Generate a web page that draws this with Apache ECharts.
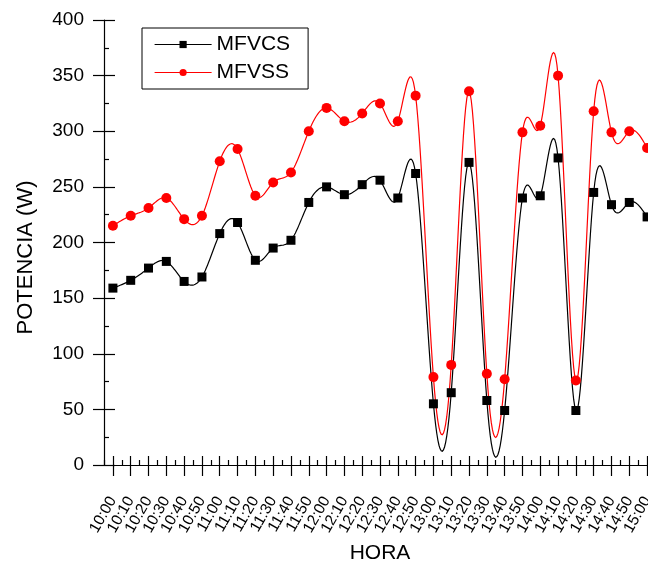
<!DOCTYPE html>
<html>
<head>
<meta charset="utf-8">
<script src="https://cdn.jsdelivr.net/npm/echarts@6/dist/echarts.min.js"></script>
<style>
  html, body { margin: 0; padding: 0; background: #fff; }
  #chart { width: 648px; height: 562px; }
</style>
</head>
<body>
<div id="chart"></div>
<script>
// Time of day, one reading every 10 minutes
const horas = ['10:00','10:10','10:20','10:30','10:40','10:50',
               '11:00','11:10','11:20','11:30','11:40','11:50',
               '12:00','12:10','12:20','12:30','12:40','12:50',
               '13:00','13:10','13:20','13:30','13:40','13:50',
               '14:00','14:10','14:20','14:30','14:40','14:50','15:00'];

// Power (W) of each module
const mfvcs = [159, 166, 177, 183, 165, 169, 208, 218, 184, 195, 202, 236,
               250, 243, 252, 256, 240, 262, 55, 65, 272, 58, 49, 240,
               242, 276, 49, 245, 234, 236, 223];
const mfvss = [215, 224, 231, 240, 221, 224, 273, 284, 242, 254, 263, 300,
               321, 309, 316, 325, 309, 332, 79, 90, 336, 82, 77, 299,
               305, 350, 76, 318, 299, 300, 285];

const FONT = '"Liberation Sans", Arial, sans-serif';
const BLACK = '#000000';
const RED = '#ff0000';

// Natural cubic spline through screen points (x strictly increasing)
function splinePath(pts, steps) {
  const n = pts.length;
  const x = pts.map(p => p[0]), y = pts.map(p => p[1]);
  const h = [];
  for (let i = 0; i < n - 1; i++) h.push(x[i + 1] - x[i]);
  const M = new Array(n).fill(0);
  if (n > 2) {
    const a = [], b = [], c = [], d = [];
    for (let i = 1; i < n - 1; i++) {
      a.push(h[i - 1]);
      b.push(2 * (h[i - 1] + h[i]));
      c.push(h[i]);
      d.push(6 * ((y[i + 1] - y[i]) / h[i] - (y[i] - y[i - 1]) / h[i - 1]));
    }
    const m = b.length;
    for (let i = 1; i < m; i++) {
      const w = a[i] / b[i - 1];
      b[i] -= w * c[i - 1];
      d[i] -= w * d[i - 1];
    }
    const sol = new Array(m);
    sol[m - 1] = d[m - 1] / b[m - 1];
    for (let i = m - 2; i >= 0; i--) sol[i] = (d[i] - c[i] * sol[i + 1]) / b[i];
    for (let i = 0; i < m; i++) M[i + 1] = sol[i];
  }
  const out = [];
  for (let i = 0; i < n - 1; i++) {
    const hi = h[i];
    for (let s = 0; s < steps; s++) {
      const xx = x[i] + hi * s / steps;
      const A = x[i + 1] - xx, B = xx - x[i];
      const yy = M[i] * A * A * A / (6 * hi) + M[i + 1] * B * B * B / (6 * hi)
        + (y[i] / hi - M[i] * hi / 6) * A + (y[i + 1] / hi - M[i + 1] * hi / 6) * B;
      out.push([xx, yy]);
    }
  }
  out.push(pts[n - 1]);
  return out;
}

function curveSeries(values, color) {
  return {
    type: 'custom',
    xAxisIndex: 0,
    yAxisIndex: 0,
    silent: true,
    z: 2,
    data: [[0, 0]],
    renderItem: function (params, api) {
      const pts = values.map((v, i) => api.coord([i, v]));
      return {
        type: 'polyline',
        shape: { points: splinePath(pts, 16) },
        style: { stroke: color, lineWidth: 1.2, fill: null }
      };
    }
  };
}

const chart = echarts.init(document.getElementById('chart'), null, { renderer: 'canvas' });

// Three identical grids stacked: one carries the labelled axes,
// the other two only add the inward major and minor tick marks.
const gridBox = { left: 104, top: 20, width: 552, height: 445,
                  containLabel: false, outerBoundsMode: 'none' };
const tickLine = { color: BLACK, width: 1.2 };

const catBase = (g) => ({
  type: 'category',
  data: horas,
  boundaryGap: true,
  position: 'bottom',
  gridIndex: g,
  splitLine: { show: false }
});

const valBase = (g) => ({
  type: 'value',
  min: 0,
  max: 400,
  interval: 50,
  position: 'left',
  gridIndex: g,
  splitLine: { show: false }
});

chart.setOption({
  backgroundColor: '#ffffff',
  animation: false,
  textStyle: { fontFamily: FONT, color: BLACK },
  grid: [Object.assign({}, gridBox), Object.assign({}, gridBox), Object.assign({}, gridBox)],
  legend: {
    orient: 'vertical',
    left: 142,
    top: 28,
    padding: [6, 18, 6, 12],
    itemGap: 7,
    itemWidth: 57,
    itemHeight: 9,
    borderColor: BLACK,
    borderWidth: 1,
    backgroundColor: '#ffffff',
    textStyle: { fontFamily: FONT, fontSize: 21, color: BLACK, lineHeight: 20 },
    lineStyle: { opacity: 1, width: 1.2 },
    data: ['MFVCS', 'MFVSS']
  },
  xAxis: [
    Object.assign(catBase(0), {
      name: 'HORA',
      nameLocation: 'middle',
      nameGap: 78,
      nameTextStyle: { fontFamily: FONT, fontSize: 21, color: BLACK },
      axisLine: { show: true, lineStyle: tickLine },
      axisTick: { show: true, alignWithLabel: true, inside: false, length: 11,
                  interval: 0, lineStyle: tickLine },
      axisLabel: { show: true, interval: 0, rotate: 60, margin: 33,
                   fontFamily: FONT, fontSize: 15.5, color: BLACK }
    }),
    Object.assign(catBase(1), {
      axisLine: { show: false },
      axisTick: { show: true, alignWithLabel: true, inside: true, length: 9,
                  interval: 0, lineStyle: tickLine },
      axisLabel: { show: false }
    }),
    Object.assign(catBase(2), {
      axisLine: { show: false },
      axisTick: { show: true, alignWithLabel: false, inside: true, length: 5,
                  interval: 0, lineStyle: tickLine },
      axisLabel: { show: false }
    })
  ],
  yAxis: [
    Object.assign(valBase(0), {
      name: 'POTENCIA (W)',
      nameLocation: 'middle',
      nameGap: 67,
      nameTextStyle: { fontFamily: FONT, fontSize: 22, color: BLACK,
                       padding: [0, 30, 0, 0] },
      axisLine: { show: true, lineStyle: tickLine },
      axisTick: { show: true, inside: false, length: 11, lineStyle: tickLine },
      axisLabel: { show: true, margin: 20, fontFamily: FONT, fontSize: 19, color: BLACK }
    }),
    Object.assign(valBase(1), {
      axisLine: { show: false },
      axisTick: { show: true, inside: true, length: 11, lineStyle: tickLine },
      minorTick: { show: true, splitNumber: 2, length: 5, lineStyle: tickLine },
      minorSplitLine: { show: false },
      axisLabel: { show: false }
    }),
    Object.assign(valBase(2), {
      axisLine: { show: false },
      axisTick: { show: false },
      axisLabel: { show: false }
    })
  ],
  series: [
    curveSeries(mfvcs, BLACK),
    curveSeries(mfvss, RED),
    {
      name: 'MFVCS',
      type: 'line',
      data: mfvcs,
      xAxisIndex: 0,
      yAxisIndex: 0,
      symbol: 'rect',
      symbolSize: 9,
      showSymbol: true,
      itemStyle: { color: BLACK },
      lineStyle: { color: BLACK, width: 1.2, opacity: 0 },
      z: 3
    },
    {
      name: 'MFVSS',
      type: 'line',
      data: mfvss,
      xAxisIndex: 0,
      yAxisIndex: 0,
      symbol: 'circle',
      symbolSize: 10,
      showSymbol: true,
      itemStyle: { color: RED },
      lineStyle: { color: RED, width: 1.2, opacity: 0 },
      z: 4
    }
  ]
});
</script>
</body>
</html>
